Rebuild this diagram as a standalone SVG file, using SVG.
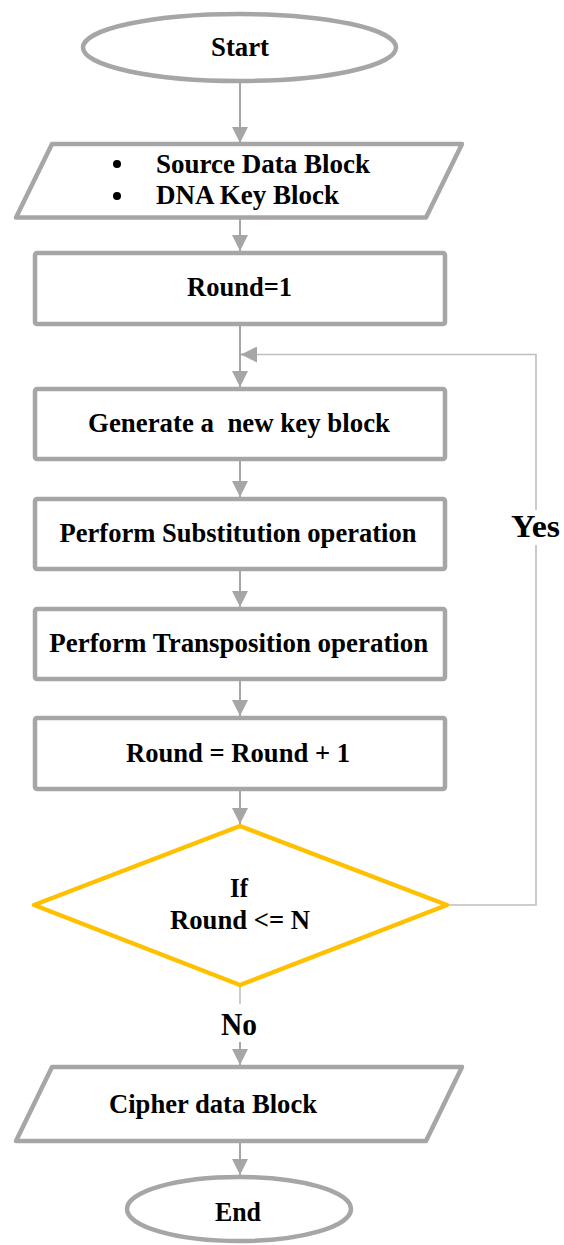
<svg xmlns="http://www.w3.org/2000/svg" width="564" height="1245" viewBox="0 0 564 1245">
<style>
.box{fill:#fff;stroke:#a6a6a6;stroke-width:4.5;stroke-linejoin:round}
.dec{fill:#fff;stroke:#ffc000;stroke-width:4.5;stroke-linejoin:round}
.con{fill:none;stroke:#a6a6a6;stroke-width:2}
.loop{fill:none;stroke:#bfbfbf;stroke-width:1.6}
.t{font-family:"Liberation Serif","Times New Roman",serif;font-weight:bold;font-size:27px;fill:#000;text-anchor:middle}
.s{text-anchor:start}
.lbl{font-family:"Liberation Serif","Times New Roman",serif;font-weight:bold;font-size:32px;fill:#000;text-anchor:middle}
</style>
<defs>
<marker id="arr" viewBox="0 0 16 16" markerWidth="16" markerHeight="16" refX="16" refY="8" orient="auto" markerUnits="userSpaceOnUse">
<path d="M0,0 L16,8 L0,16 z" fill="#a6a6a6"/>
</marker>
</defs>
<rect width="564" height="1245" fill="#fff"/>
<g id="connectors">
<line class="con" x1="240" y1="83" x2="240" y2="143" marker-end="url(#arr)"/>
<line class="con" x1="240" y1="219" x2="240" y2="251" marker-end="url(#arr)"/>
<line class="con" x1="240" y1="326" x2="240" y2="387" marker-end="url(#arr)"/>
<line class="con" x1="240" y1="461" x2="240" y2="497" marker-end="url(#arr)"/>
<line class="con" x1="240" y1="571" x2="240" y2="607" marker-end="url(#arr)"/>
<line class="con" x1="240" y1="681" x2="240" y2="716" marker-end="url(#arr)"/>
<line class="con" x1="240" y1="791" x2="240" y2="824" marker-end="url(#arr)"/>
<polyline class="loop" points="447,905 536,905 536,545"/>
<polyline class="loop" points="536,510 536,354.5 256,354.5"/>
<line class="con" x1="256" y1="354.5" x2="241" y2="354.5" stroke-width="0" marker-end="url(#arr)"/>
<line class="loop" x1="240" y1="987" x2="240" y2="1004"/>
<line class="con" x1="240" y1="1042" x2="240" y2="1065" marker-end="url(#arr)"/>
<line class="con" x1="240" y1="1143" x2="240" y2="1175" marker-end="url(#arr)"/>
<text class="lbl" x="535.5" y="537" textLength="49" lengthAdjust="spacingAndGlyphs">Yes</text>
<text class="lbl" x="239" y="1035" textLength="36" lengthAdjust="spacingAndGlyphs">No</text>
</g>
<g id="start">
<ellipse class="box" cx="239.5" cy="47.5" rx="156.5" ry="33.5"/>
<text class="t" x="240" y="56" textLength="58" lengthAdjust="spacingAndGlyphs">Start</text>
</g>
<g id="input">
<polygon class="box" points="52,144 462,144 426,217.5 16,217.5"/>
<circle cx="117" cy="164" r="4" fill="#000"/>
<circle cx="117" cy="196" r="4" fill="#000"/>
<text class="t s" x="156" y="173" textLength="214" lengthAdjust="spacingAndGlyphs">Source Data Block</text>
<text class="t s" x="156" y="204" textLength="183" lengthAdjust="spacingAndGlyphs">DNA Key Block</text>
</g>
<g id="round1">
<rect class="box" x="35" y="253" width="410" height="71" rx="2"/>
<text class="t" x="239.5" y="296" textLength="105" lengthAdjust="spacingAndGlyphs">Round=1</text>
</g>
<g id="genkey">
<rect class="box" x="35" y="389" width="410" height="70" rx="2"/>
<text class="t" x="239" y="432" textLength="302" lengthAdjust="spacingAndGlyphs" xml:space="preserve">Generate a  new key block</text>
</g>
<g id="subst">
<rect class="box" x="35" y="499" width="410" height="70" rx="2"/>
<text class="t" x="238" y="542" textLength="357" lengthAdjust="spacingAndGlyphs">Perform Substitution operation</text>
</g>
<g id="transp">
<rect class="box" x="35" y="609" width="410" height="70" rx="2"/>
<text class="t" x="238.8" y="652" textLength="379" lengthAdjust="spacingAndGlyphs">Perform Transposition operation</text>
</g>
<g id="inc">
<rect class="box" x="35" y="718" width="410" height="71" rx="2"/>
<text class="t" x="238" y="762" textLength="224" lengthAdjust="spacingAndGlyphs">Round = Round + 1</text>
</g>
<g id="decision">
<polygon class="dec" points="240,826 447,905 240,985 34,905"/>
<text class="t" x="239" y="897" textLength="18" lengthAdjust="spacingAndGlyphs">If</text>
<text class="t" x="240" y="929" textLength="140" lengthAdjust="spacingAndGlyphs">Round &lt;= N</text>
</g>
<g id="output">
<polygon class="box" points="52,1067 462,1067 426,1141 16,1141"/>
<text class="t s" x="109" y="1113" textLength="208" lengthAdjust="spacingAndGlyphs">Cipher data Block</text>
</g>
<g id="end">
<ellipse class="box" cx="239" cy="1209" rx="112" ry="32"/>
<text class="t" x="238" y="1221" textLength="46" lengthAdjust="spacingAndGlyphs">End</text>
</g>
</svg>
